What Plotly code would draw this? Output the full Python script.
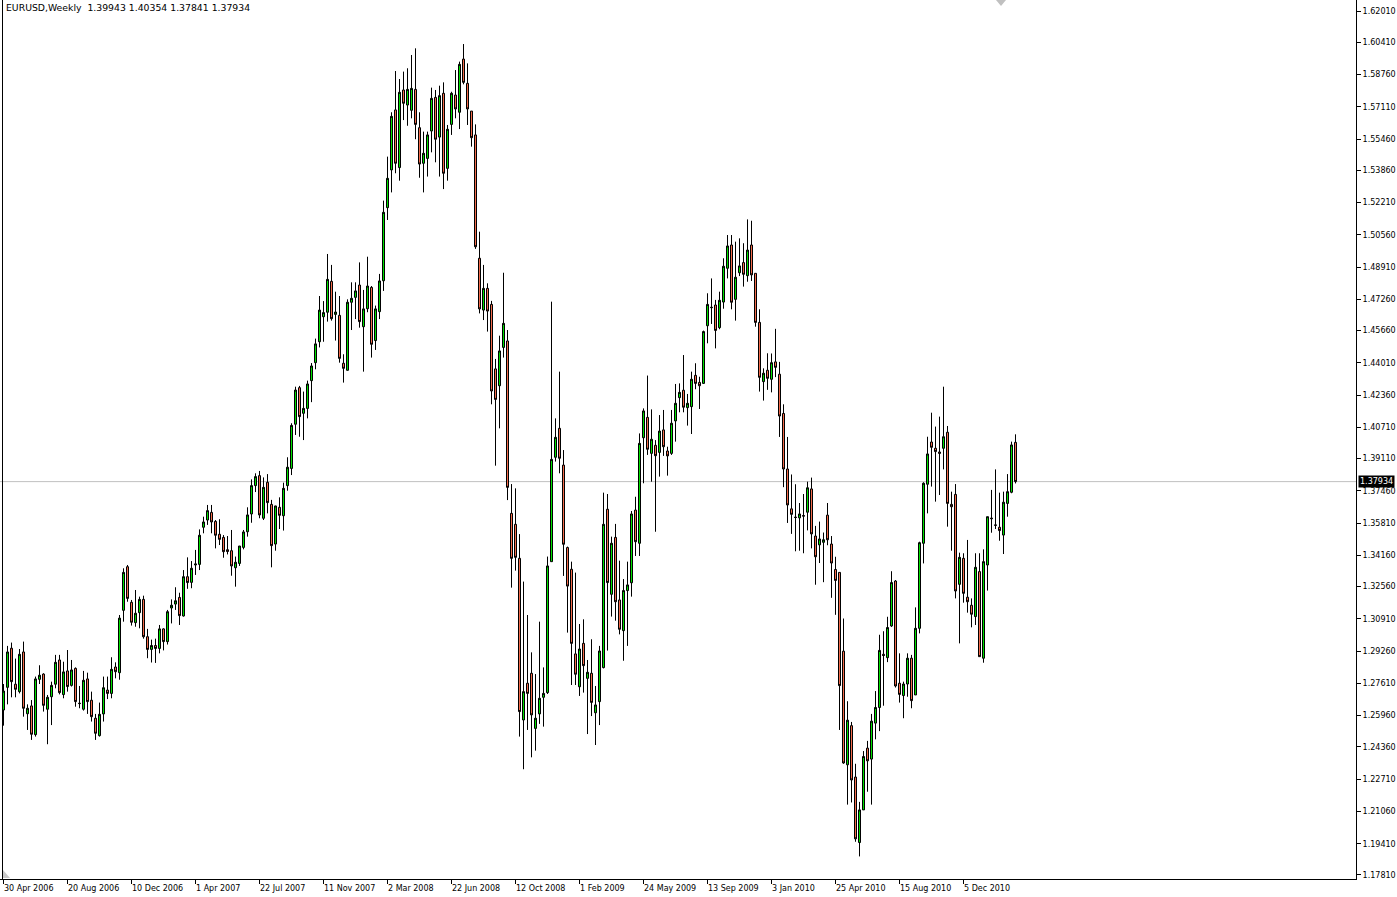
import pandas as pd
import plotly.graph_objects as go

symbol_title = "EURUSD,Weekly"
first_week = "2006-04-30"

opens = [
    1.2625, 1.2741, 1.2941, 1.2757, 1.2719, 1.2922, 1.2606, 1.2646, 1.2499, 1.2782,
    1.2809, 1.2629, 1.2693, 1.2757, 1.2881, 1.2704, 1.2825, 1.2751, 1.2838, 1.2660,
    1.2629, 1.2784, 1.2675, 1.2583, 1.2494, 1.2605, 1.2727, 1.2710, 1.2845, 1.2816,
    1.3135, 1.3358, 1.3176, 1.3072, 1.3123, 1.3191, 1.3000, 1.2935, 1.2955, 1.2940,
    1.3040, 1.2975, 1.3147, 1.3167, 1.3201, 1.3106, 1.3307, 1.3278, 1.3367, 1.3370,
    1.3560, 1.3597, 1.3636, 1.3590, 1.3524, 1.3508, 1.3445, 1.3440, 1.3353, 1.3375,
    1.3457, 1.3537, 1.3628, 1.3773, 1.3824, 1.3606, 1.3790, 1.3677, 1.3474, 1.3662,
    1.3619, 1.3773, 1.3861, 1.4087, 1.4274, 1.4143, 1.4168, 1.4310, 1.4402, 1.4509,
    1.4637, 1.4660, 1.4818, 1.4649, 1.4644, 1.4399, 1.4363, 1.4711, 1.4736, 1.4799,
    1.4586, 1.4678, 1.4787, 1.4515, 1.4663, 1.4821, 1.5195, 1.5388, 1.5695, 1.5400,
    1.5797, 1.5720, 1.5693, 1.5800, 1.5604, 1.5422, 1.5447, 1.5587, 1.5759, 1.5556,
    1.5780, 1.5396, 1.5621, 1.5771, 1.5683, 1.5955, 1.5831, 1.5689, 1.5567, 1.4936,
    1.4671, 1.4782, 1.4700, 1.4370, 1.4284, 1.4480, 1.4513, 1.3631, 1.3575, 1.3401,
    1.2574, 1.2762, 1.2813, 1.2531, 1.2605, 1.2690, 1.2714, 1.3384, 1.3918, 1.4066,
    1.3878, 1.3456, 1.3345, 1.2912, 1.2744, 1.2966, 1.2787, 1.2813, 1.2611, 1.2668,
    1.2842, 1.3652, 1.3217, 1.3508, 1.3188, 1.3031, 1.3236, 1.3276, 1.3648, 1.3478,
    1.4018, 1.4122, 1.3938, 1.3979, 1.3943, 1.4058, 1.3950, 1.3938, 1.4104, 1.4223,
    1.4261, 1.4172, 1.4177, 1.4337, 1.4301, 1.4296, 1.4591, 1.4683, 1.4697, 1.4581,
    1.4712, 1.4885, 1.5004, 1.4726, 1.4862, 1.4914, 1.4847, 1.5004, 1.4859, 1.4608,
    1.4305, 1.4363, 1.4317, 1.4406, 1.4343, 1.4142, 1.3858, 1.3654, 1.3612, 1.3608,
    1.3620, 1.3637, 1.3756, 1.3515, 1.3470, 1.3483, 1.3622, 1.3474, 1.3344, 1.3329,
    1.2926, 1.2345, 1.2545, 1.2282, 1.1947, 1.2114, 1.2430, 1.2374, 1.2558, 1.2638,
    1.2910, 1.2893, 1.3055, 1.3285, 1.2762, 1.2699, 1.2758, 1.2890, 1.2702, 1.3043,
    1.3478, 1.3780, 1.3996, 1.3964, 1.3945, 1.3964, 1.4046, 1.3677, 1.3728, 1.3268,
    1.3401, 1.3202, 1.3161, 1.3103, 1.3333, 1.2890, 1.3367, 1.3607, 1.3572, 1.3560,
    1.3520, 1.3682, 1.3739, 1.39943,
]

highs = [
    1.2758, 1.2953, 1.2970, 1.2888, 1.2937, 1.2975, 1.2654, 1.2676, 1.2796, 1.2854,
    1.2813, 1.2702, 1.2770, 1.2907, 1.2907, 1.2872, 1.2932, 1.2881, 1.2843, 1.2748,
    1.2825, 1.2816, 1.2719, 1.2605, 1.2663, 1.2796, 1.2796, 1.2895, 1.2869, 1.3111,
    1.3350, 1.3367, 1.3188, 1.3239, 1.3205, 1.3210, 1.3040, 1.2985, 1.2990, 1.3060,
    1.3043, 1.3137, 1.3191, 1.3253, 1.3225, 1.3341, 1.3406, 1.3387, 1.3444, 1.3549,
    1.3614, 1.3674, 1.3674, 1.3597, 1.3601, 1.3520, 1.3515, 1.3546, 1.3410, 1.3464,
    1.3546, 1.3662, 1.3805, 1.3836, 1.3848, 1.3815, 1.3832, 1.3700, 1.3670, 1.3713,
    1.3788, 1.3918, 1.4092, 1.4279, 1.4283, 1.4254, 1.4310, 1.4400, 1.4525, 1.4743,
    1.4717, 1.4958, 1.4902, 1.4765, 1.4743, 1.4445, 1.4726, 1.4813, 1.4813, 1.4915,
    1.4774, 1.4944, 1.4794, 1.4694, 1.4856, 1.5231, 1.5456, 1.5683, 1.5894, 1.5853,
    1.5891, 1.5908, 1.5976, 1.6010, 1.5683, 1.5584, 1.5584, 1.5809, 1.5797, 1.5819,
    1.5836, 1.5618, 1.5788, 1.5899, 1.5942, 1.6032, 1.5933, 1.5689, 1.5621, 1.5072,
    1.4902, 1.4808, 1.4718, 1.4421, 1.4540, 1.4862, 1.4569, 1.3781, 1.3759, 1.3525,
    1.3282, 1.3111, 1.2920, 1.2809, 1.3077, 1.2843, 1.3410, 1.4714, 1.4117, 1.4356,
    1.3955, 1.3461, 1.3384, 1.3328, 1.3065, 1.3089, 1.2881, 1.2987, 1.2748, 1.2953,
    1.3737, 1.3730, 1.3512, 1.3577, 1.3389, 1.3295, 1.3384, 1.3643, 1.3716, 1.4040,
    1.4168, 1.4336, 1.4163, 1.4006, 1.4134, 1.4160, 1.3972, 1.4160, 1.4293, 1.4296,
    1.4441, 1.4242, 1.4356, 1.4399, 1.4330, 1.4566, 1.4757, 1.4833, 1.4723, 1.4765,
    1.4936, 1.5055, 1.5055, 1.5021, 1.5038, 1.5013, 1.5135, 1.5128, 1.4859, 1.4675,
    1.4373, 1.4450, 1.4449, 1.4575, 1.4406, 1.4189, 1.4022, 1.3830, 1.3780, 1.3684,
    1.3730, 1.3793, 1.3814, 1.3567, 1.3589, 1.3533, 1.3684, 1.3515, 1.3409, 1.3329,
    1.3093, 1.2670, 1.2564, 1.2350, 1.2155, 1.2415, 1.2467, 1.2605, 1.2722, 1.3010,
    1.3028, 1.3102, 1.3335, 1.3290, 1.2915, 1.2770, 1.2915, 1.2907, 1.3150, 1.3486,
    1.3790, 1.4023, 1.4146, 1.4075, 1.4126, 1.4279, 1.4078, 1.3742, 1.3781, 1.3430,
    1.3427, 1.3495, 1.3196, 1.3427, 1.3427, 1.3447, 1.3614, 1.3751, 1.3856, 1.3737,
    1.3742, 1.3832, 1.3998, 1.40354,
]

lows = [
    1.2545, 1.2654, 1.2690, 1.2690, 1.2710, 1.2591, 1.2523, 1.2472, 1.2489, 1.2758,
    1.2617, 1.2450, 1.2548, 1.2736, 1.2705, 1.2685, 1.2719, 1.2745, 1.2642, 1.2634,
    1.2622, 1.2605, 1.2566, 1.2472, 1.2489, 1.2566, 1.2681, 1.2685, 1.2787, 1.2780,
    1.3077, 1.3179, 1.3057, 1.3051, 1.3043, 1.2990, 1.2890, 1.2868, 1.2866, 1.2915,
    1.2930, 1.2960, 1.3068, 1.3137, 1.3060, 1.3103, 1.3245, 1.3248, 1.3316, 1.3341,
    1.3529, 1.3572, 1.3529, 1.3452, 1.3469, 1.3404, 1.3421, 1.3312, 1.3256, 1.3362,
    1.3447, 1.3512, 1.3583, 1.3740, 1.3606, 1.3597, 1.3631, 1.3355, 1.3440, 1.3551,
    1.3543, 1.3747, 1.3827, 1.4032, 1.4023, 1.4006, 1.4117, 1.4200, 1.4368, 1.4480,
    1.4509, 1.4612, 1.4617, 1.4515, 1.4402, 1.4300, 1.4361, 1.4569, 1.4625, 1.4581,
    1.4356, 1.4660, 1.4428, 1.4467, 1.4625, 1.4769, 1.5132, 1.5273, 1.5371, 1.5333,
    1.5643, 1.5614, 1.5652, 1.5545, 1.5348, 1.5273, 1.5354, 1.5478, 1.5427, 1.5354,
    1.5290, 1.5333, 1.5567, 1.5652, 1.5597, 1.5826, 1.5618, 1.5507, 1.4984, 1.4654,
    1.4620, 1.4561, 1.4189, 1.3875, 1.4066, 1.4428, 1.3699, 1.3251, 1.3338, 1.2489,
    1.2322, 1.2523, 1.2383, 1.2417, 1.2554, 1.2540, 1.2707, 1.3384, 1.3896, 1.3836,
    1.3311, 1.3021, 1.2753, 1.2753, 1.2697, 1.2714, 1.2502, 1.2594, 1.2446, 1.2548,
    1.2838, 1.2929, 1.3103, 1.3082, 1.3012, 1.2877, 1.2953, 1.3205, 1.3413, 1.3413,
    1.3785, 1.3930, 1.3793, 1.3537, 1.3819, 1.3925, 1.3824, 1.3930, 1.3998, 1.4148,
    1.4148, 1.4080, 1.4037, 1.4266, 1.4165, 1.4293, 1.4501, 1.4600, 1.4475, 1.4573,
    1.4678, 1.4833, 1.4675, 1.4617, 1.4845, 1.4791, 1.4816, 1.4820, 1.4586, 1.4254,
    1.4208, 1.4263, 1.4250, 1.4328, 1.4022, 1.3765, 1.3582, 1.3526, 1.3437, 1.3440,
    1.3427, 1.3544, 1.3452, 1.3266, 1.3377, 1.3279, 1.3468, 1.3199, 1.3112, 1.2523,
    1.2350, 1.2141, 1.2152, 1.1951, 1.1876, 1.2114, 1.2207, 1.2141, 1.2475, 1.2517,
    1.2647, 1.2870, 1.3050, 1.2740, 1.2663, 1.2583, 1.2693, 1.2634, 1.2702, 1.3017,
    1.3375, 1.3631, 1.3768, 1.3691, 1.3725, 1.3856, 1.3563, 1.3440, 1.3196, 1.2966,
    1.3174, 1.3123, 1.3048, 1.3060, 1.2898, 1.2867, 1.3236, 1.3532, 1.3551, 1.3491,
    1.3423, 1.3614, 1.3734, 1.37841,
]

closes = [
    1.2722, 1.2922, 1.2770, 1.2731, 1.2910, 1.2634, 1.2634, 1.2501, 1.2784, 1.2803,
    1.2649, 1.2690, 1.2751, 1.2869, 1.2714, 1.2820, 1.2745, 1.2830, 1.2668, 1.2658,
    1.2777, 1.2668, 1.2591, 1.2506, 1.2603, 1.2739, 1.2710, 1.2833, 1.2821, 1.3095,
    1.3329, 1.3196, 1.3074, 1.3120, 1.3191, 1.3000, 1.2935, 1.2955, 1.2940, 1.3040,
    1.2975, 1.3128, 1.3161, 1.3184, 1.3108, 1.3307, 1.3277, 1.3350, 1.3372, 1.3519,
    1.3587, 1.3645, 1.3587, 1.3519, 1.3498, 1.3435, 1.3436, 1.3362, 1.3381, 1.3464,
    1.3536, 1.3623, 1.3773, 1.3819, 1.3623, 1.3764, 1.3686, 1.3466, 1.3669, 1.3621,
    1.3759, 1.3867, 1.4081, 1.4262, 1.4126, 1.4168, 1.4293, 1.4385, 1.4498, 1.4671,
    1.4658, 1.4828, 1.4627, 1.4661, 1.4424, 1.4373, 1.4711, 1.4731, 1.4769, 1.4612,
    1.4677, 1.4794, 1.4496, 1.4677, 1.4820, 1.5171, 1.5345, 1.5662, 1.5422, 1.5785,
    1.5729, 1.5800, 1.5805, 1.5621, 1.5418, 1.5473, 1.5567, 1.5754, 1.5545, 1.5768,
    1.5371, 1.5596, 1.5780, 1.5700, 1.5928, 1.5836, 1.5700, 1.5553, 1.4995, 1.4677,
    1.4782, 1.4666, 1.4257, 1.4214, 1.4462, 1.4603, 1.3764, 1.3401, 1.3406, 1.2617,
    1.2719, 1.2710, 1.2600, 1.2583, 1.2685, 1.2710, 1.3362, 1.3907, 1.4020, 1.3913,
    1.3473, 1.3259, 1.2966, 1.2808, 1.2937, 1.2852, 1.2818, 1.2664, 1.2651, 1.2927,
    1.3575, 1.3277, 1.3478, 1.3179, 1.3038, 1.3236, 1.3265, 1.3628, 1.3486, 1.3989,
    1.4155, 1.3959, 1.4010, 1.3926, 1.4052, 1.3972, 1.3925, 1.4092, 1.4194, 1.4250,
    1.4174, 1.4194, 1.4317, 1.4296, 1.4284, 1.4561, 1.4700, 1.4685, 1.4567, 1.4721,
    1.4895, 1.4999, 1.4711, 1.4839, 1.4897, 1.4854, 1.4978, 1.4851, 1.4608, 1.4327,
    1.4348, 1.4322, 1.4402, 1.4378, 1.4129, 1.3858, 1.3674, 1.3626, 1.3610, 1.3628,
    1.3617, 1.3762, 1.3526, 1.3409, 1.3500, 1.3496, 1.3496, 1.3377, 1.3288, 1.2750,
    1.2354, 1.2573, 1.2267, 1.1966, 1.2114, 1.2387, 1.2365, 1.2568, 1.2638, 1.2930,
    1.2904, 1.3047, 1.3277, 1.2748, 1.2705, 1.2758, 1.2890, 1.2673, 1.3043, 1.3481,
    1.3785, 1.3935, 1.3969, 1.3947, 1.3938, 1.4023, 1.3682, 1.3665, 1.3234, 1.3406,
    1.3222, 1.3179, 1.3115, 1.3355, 1.2898, 1.3384, 1.3614, 1.3604, 1.3570, 1.3543,
    1.3688, 1.3742, 1.3981, 1.37934,
]

price_ticks = [
    1.62010, 1.60410, 1.58760, 1.57110, 1.55460, 1.53860, 1.52210, 1.50560,
    1.48910, 1.47260, 1.45660, 1.44010, 1.42360, 1.40710, 1.39110, 1.37460,
    1.35810, 1.34160, 1.32560, 1.30910, 1.29260, 1.27610, 1.25960, 1.24360,
    1.22710, 1.21060, 1.19410, 1.17810,
]

label_weeks = [
    "2006-04-30", "2006-08-20", "2006-12-10", "2007-04-01", "2007-07-22",
    "2007-11-11", "2008-03-02", "2008-06-22", "2008-10-12", "2009-02-01",
    "2009-05-24", "2009-09-13", "2010-01-03", "2010-04-25", "2010-08-15",
    "2010-12-05",
]
date_labels = [
    "30 Apr 2006", "20 Aug 2006", "10 Dec 2006", "1 Apr 2007", "22 Jul 2007",
    "11 Nov 2007", "2 Mar 2008", "22 Jun 2008", "12 Oct 2008", "1 Feb 2009",
    "24 May 2009", "13 Sep 2009", "3 Jan 2010", "25 Apr 2010", "15 Aug 2010",
    "5 Dec 2010",
]

# ---- styling / layout constants ----
W, H = 1397, 897
PLOT_W, PLOT_H = 1356, 879
UP_FILL = "#00e000"
DN_FILL = "#f26a4a"
FONT = "DejaVu Sans"
FS_AXIS = 8
FS_HEAD = 9.3
PX_PER_WEEK = 4.0
FIRST_CENTER_PX = 3.5

n = len(opens)
assert len(highs) == n and len(lows) == n and len(closes) == n
weeks = pd.date_range(first_week, periods=n, freq="7D")

t0 = pd.Timestamp(first_week)
wk = pd.Timedelta(days=7)
x_start = t0 - wk * (FIRST_CENTER_PX / PX_PER_WEEK)
x_end = t0 + wk * ((PLOT_W - FIRST_CENTER_PX) / PX_PER_WEEK)
y_range = [1.17605, 1.62573]

fig = go.Figure(
    go.Candlestick(
        x=weeks, open=opens, high=highs, low=lows, close=closes,
        increasing=dict(fillcolor=UP_FILL, line=dict(color="black", width=1)),
        decreasing=dict(fillcolor=DN_FILL, line=dict(color="black", width=1)),
        whiskerwidth=0, showlegend=False,
    )
)

last_o, last_h, last_l, last_c = opens[-1], highs[-1], lows[-1], closes[-1]

annotations = []
for d, t in zip(label_weeks, date_labels):
    annotations.append(dict(
        x=d, xref="x", y=0, yref="paper", xanchor="left", yanchor="top",
        text=t, showarrow=False, yshift=-3, xshift=-2,
        font=dict(family=FONT, size=FS_AXIS, color="black"),
    ))
annotations.append(dict(
    x=0, xref="paper", y=1, yref="paper", xanchor="left", yanchor="top",
    text=f"{symbol_title}  {last_o:.5f} {last_h:.5f} {last_l:.5f} {last_c:.5f}",
    showarrow=False, xshift=4, yshift=0,
    font=dict(family=FONT, size=FS_HEAD, color="black"),
))
annotations.append(dict(
    x=1, xref="paper", y=last_c, yref="y", xanchor="left", yanchor="middle",
    text=f"{last_c:.5f}", showarrow=False, xshift=2, bgcolor="black", borderpad=1,
    font=dict(family=FONT, size=FS_AXIS, color="white"),
))

def px_x(p):
    return p / PLOT_W

def px_y(p):
    return 1 - p / PLOT_H

shapes = [
    dict(type="line", xref="paper", yref="y", x0=0, x1=1, y0=last_c, y1=last_c,
         line=dict(color="#c0c0c0", width=1), layer="below"),
    dict(type="line", xref="paper", yref="paper", x0=px_x(2.5), x1=px_x(2.5), y0=0, y1=1,
         line=dict(color="black", width=1)),
    dict(type="path", xref="paper", yref="paper",
         path=f"M {px_x(996)} {px_y(0)} L {px_x(1006)} {px_y(0)} L {px_x(1001)} {px_y(6)} Z",
         fillcolor="#c0c0c0", line=dict(width=0)),
    dict(type="path", xref="paper", yref="paper",
         path=f"M {px_x(3)} {px_y(870)} L {px_x(3)} {px_y(878)} L {px_x(10)} {px_y(878)} Z",
         fillcolor="#c8c8c8", line=dict(width=0)),
]

fig.update_layout(
    width=W, height=H,
    margin=dict(l=0, r=W - PLOT_W, t=0, b=H - PLOT_H),
    paper_bgcolor="white", plot_bgcolor="white",
    boxgap=0.5, boxgroupgap=0,
    showlegend=False,
    annotations=annotations,
    shapes=shapes,
    xaxis=dict(
        type="date", range=[x_start, x_end], rangeslider=dict(visible=False),
        showgrid=False, zeroline=False, showline=True, linecolor="black", linewidth=1,
        ticks="outside", ticklen=4, tickcolor="black", tickvals=label_weeks,
        showticklabels=False, fixedrange=True,
    ),
    yaxis=dict(
        side="right", range=y_range, tickvals=price_ticks,
        ticktext=[f"{v:.5f}" for v in price_ticks],
        showgrid=False, zeroline=False, showline=True, linecolor="black", linewidth=1,
        ticks="outside", ticklen=4, tickcolor="black",
        tickfont=dict(family=FONT, size=FS_AXIS, color="black"), fixedrange=True,
    ),
)

fig.write_html(
    "out.html",
    config={"displayModeBar": False},
    post_script="document.body.style.margin='0px';",
)
